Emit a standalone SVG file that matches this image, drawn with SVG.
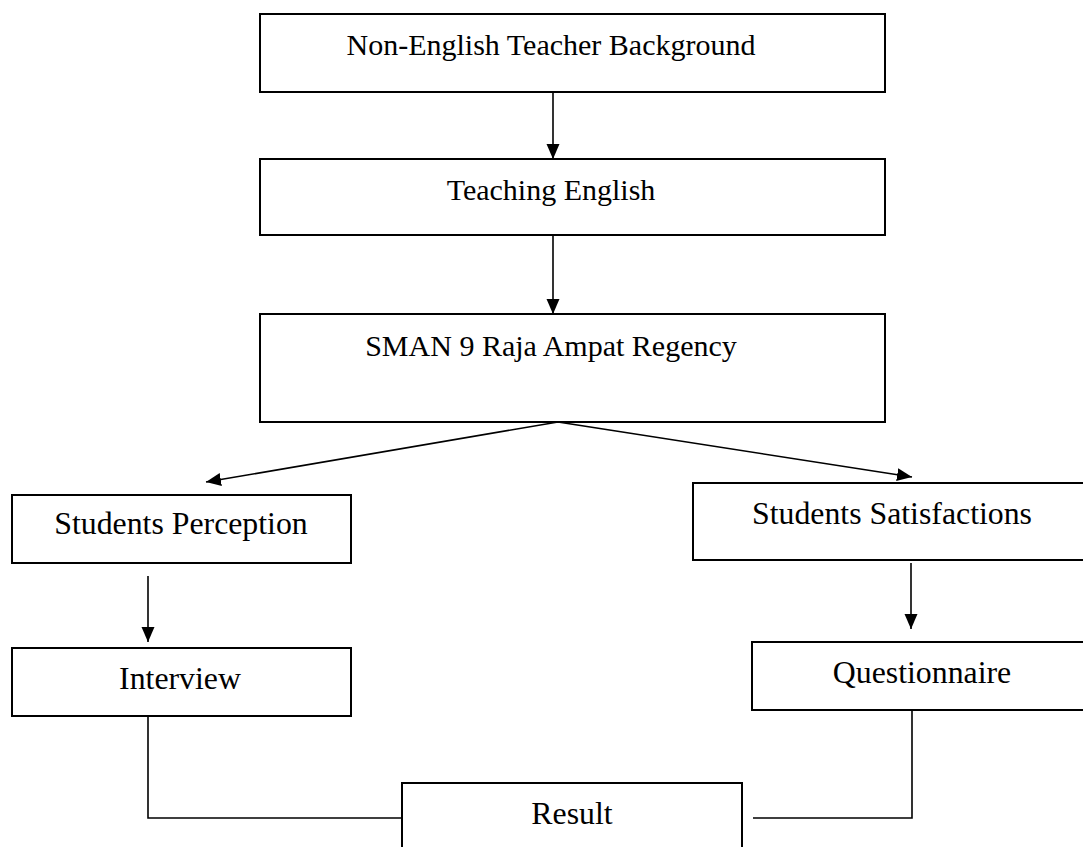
<svg xmlns="http://www.w3.org/2000/svg" width="1083" height="847" viewBox="0 0 1083 847">
<style>
.box{fill:#fff;stroke:#000;stroke-width:2}
.t{font-family:"Liberation Serif","Times New Roman",serif;font-size:30px;fill:#000;text-anchor:middle}
.t2{font-family:"Liberation Serif","Times New Roman",serif;font-size:31.8px;fill:#000;text-anchor:middle}
.c{fill:none;stroke:#000;stroke-width:1.6}
</style>
<defs>
<marker id="ah" markerUnits="userSpaceOnUse" markerWidth="16" markerHeight="14" refX="15" refY="6.5" orient="auto">
<path d="M0,0 L15,6.5 L0,13 z" fill="#000"/>
</marker>
</defs>
<rect width="1083" height="847" fill="#fff"/>
<g id="connectors">
<line class="c" x1="553" y1="92" x2="553" y2="159" marker-end="url(#ah)"/>
<line class="c" x1="553" y1="235" x2="553" y2="314" marker-end="url(#ah)"/>
<line class="c" x1="558" y1="422" x2="206" y2="482" marker-end="url(#ah)"/>
<line class="c" x1="558" y1="422" x2="912" y2="477" marker-end="url(#ah)"/>
<line class="c" x1="148" y1="576" x2="148" y2="642" marker-end="url(#ah)"/>
<line class="c" x1="911" y1="563" x2="911" y2="629" marker-end="url(#ah)"/>
<polyline class="c" points="148,716 148,818 402,818"/>
<polyline class="c" points="753,818 912,818 912,710"/>
</g>
<g id="n1"><rect class="box" x="260" y="14" width="625" height="78"/><text class="t" x="551" y="55">Non-English Teacher Background</text></g>
<g id="n2"><rect class="box" x="260" y="159" width="625" height="76"/><text class="t" x="551" y="200">Teaching English</text></g>
<g id="n3"><rect class="box" x="260" y="314" width="625" height="108"/><text class="t" x="551" y="356">SMAN 9 Raja Ampat Regency</text></g>
<g id="n4"><rect class="box" x="12" y="495" width="339" height="68"/><text class="t2" x="181" y="534">Students Perception</text></g>
<g id="n5"><rect class="box" x="12" y="648" width="339" height="68"/><text class="t2" x="180" y="689">Interview</text></g>
<g id="n6"><rect class="box" x="693" y="483" width="400" height="77"/><text class="t2" x="892" y="524">Students Satisfactions</text></g>
<g id="n7"><rect class="box" x="752" y="642" width="341" height="68"/><text class="t2" x="922" y="683">Questionnaire</text></g>
<g id="n8"><rect class="box" x="402" y="783" width="340" height="80"/><text class="t2" x="572" y="824">Result</text></g>
</svg>
